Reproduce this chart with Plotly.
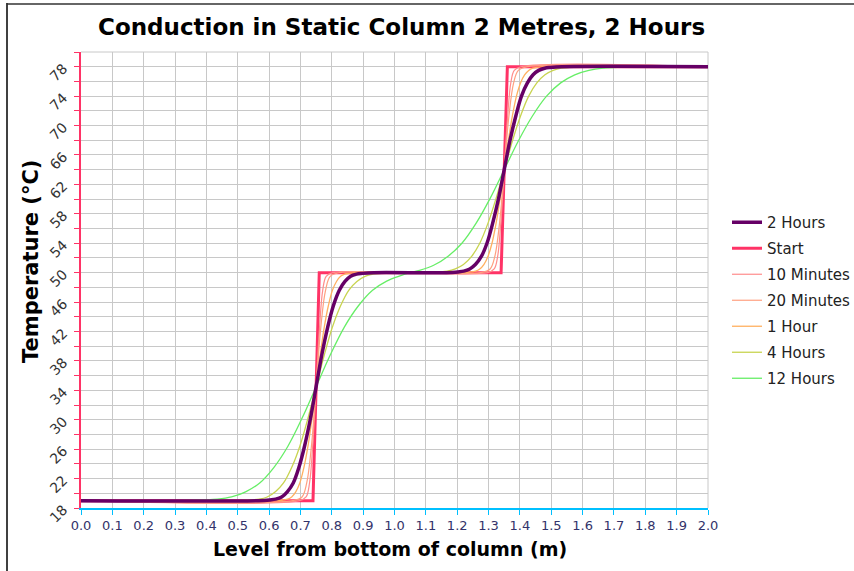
import plotly.graph_objects as go

# ---------------- data ----------------
start_x = [0.0, 0.74, 0.76, 1.34, 1.36, 2.0]
start_t = [19.0, 19.0, 50.0, 50.0, 78.0, 78.0]

min10_x = [0.0, 0.697, 0.718, 0.729, 0.739, 0.75, 0.761, 0.771, 0.782, 0.803,
           1.297, 1.318, 1.329, 1.339, 1.35, 1.361, 1.371, 1.382, 1.403, 2.0]
min10_t = [19.0, 19.0, 19.5, 21.4, 26.4, 34.5, 42.6, 47.6, 49.5, 50.0,
           50.0, 50.5, 52.2, 56.7, 64.0, 71.3, 75.8, 77.5, 78.0, 78.0]

min20_x = [0.0, 0.675, 0.705, 0.72, 0.735, 0.75, 0.765, 0.78, 0.795, 0.825,
           1.275, 1.305, 1.32, 1.335, 1.35, 1.365, 1.38, 1.395, 1.425, 2.0]
min20_t = [19.0, 19.0, 19.5, 21.4, 26.4, 34.5, 42.6, 47.6, 49.5, 50.0,
           50.0, 50.5, 52.2, 56.7, 64.0, 71.3, 75.8, 77.5, 78.0, 78.0]

h1_x = [0.0, 0.62, 0.646, 0.659, 0.672, 0.685, 0.698, 0.711, 0.724, 0.737, 0.75,
        0.763, 0.776, 0.789, 0.802, 0.815, 0.828, 0.841, 0.854, 0.88,
        1.22, 1.246, 1.259, 1.272, 1.285, 1.298, 1.311, 1.324, 1.337, 1.35,
        1.363, 1.376, 1.389, 1.402, 1.415, 1.428, 1.441, 1.454, 1.48, 2.0]
h1_t = [19.0, 19.0, 19.1, 19.2, 19.5, 20.2, 21.4, 23.5, 26.4, 30.2, 34.5,
        38.8, 42.6, 45.5, 47.6, 48.8, 49.5, 49.8, 49.9, 50.0,
        50.0, 50.1, 50.2, 50.5, 51.1, 52.2, 54.0, 56.7, 60.1, 64.0,
        67.9, 71.3, 74.0, 75.8, 76.9, 77.5, 77.8, 77.9, 78.0, 78.0]

h2_x = [0.0, 0.566, 0.603, 0.621, 0.64, 0.658, 0.677, 0.695, 0.713, 0.732, 0.75,
        0.768, 0.787, 0.805, 0.824, 0.842, 0.86, 0.879, 0.897, 0.934,
        1.166, 1.203, 1.221, 1.24, 1.258, 1.277, 1.295, 1.313, 1.332, 1.35,
        1.368, 1.387, 1.405, 1.424, 1.442, 1.46, 1.479, 1.497, 1.534, 2.0]
h2_t = [19.0, 19.0, 19.1, 19.2, 19.5, 20.2, 21.4, 23.5, 26.4, 30.2, 34.5,
        38.8, 42.6, 45.5, 47.6, 48.8, 49.5, 49.8, 49.9, 50.0,
        50.0, 50.1, 50.2, 50.5, 51.1, 52.2, 54.0, 56.7, 60.1, 64.0,
        67.9, 71.3, 74.0, 75.8, 76.9, 77.5, 77.8, 77.9, 78.0, 78.0]

h4_x = [0.0, 0.49, 0.542, 0.568, 0.594, 0.62, 0.646, 0.672, 0.698, 0.724, 0.75,
        0.776, 0.802, 0.828, 0.854, 0.88, 0.906, 0.932, 0.958, 1.01,
        1.09, 1.142, 1.168, 1.194, 1.22, 1.246, 1.272, 1.298, 1.324, 1.35,
        1.376, 1.402, 1.428, 1.454, 1.48, 1.506, 1.532, 1.558, 1.61, 2.0]
h4_t = [19.0, 19.0, 19.1, 19.2, 19.5, 20.2, 21.4, 23.5, 26.4, 30.2, 34.5,
        38.8, 42.6, 45.5, 47.6, 48.8, 49.5, 49.8, 49.9, 50.0,
        50.0, 50.1, 50.2, 50.5, 51.1, 52.2, 54.0, 56.7, 60.1, 64.0,
        67.9, 71.3, 74.0, 75.8, 76.9, 77.5, 77.8, 77.9, 78.0, 78.0]

h12_x = [0.0, 0.30, 0.39, 0.435, 0.48, 0.525, 0.57, 0.615, 0.66, 0.705, 0.75,
         0.795, 0.84, 0.885, 0.93, 0.975, 1.02, 1.05, 1.08, 1.125, 1.17, 1.215,
         1.26, 1.305, 1.35, 1.395, 1.44, 1.485, 1.53, 1.575, 1.62, 1.665, 1.71,
         1.80, 2.0]
h12_t = [19.0, 19.0, 19.1, 19.2, 19.5, 20.2, 21.4, 23.5, 26.4, 30.2, 34.5,
         38.8, 42.6, 45.5, 47.6, 48.85, 49.6, 50.0, 50.3, 51.0, 52.2, 54.0,
         56.7, 60.1, 64.0, 67.9, 71.3, 74.0, 75.8, 76.9, 77.5, 77.8, 77.9,
         78.0, 78.0]

x_ticks = [round(i * 0.1, 1) for i in range(21)]
x_tick_labels = [f"{v:.1f}" for v in x_ticks]
y_ticks = list(range(18, 79, 4))
y_tick_labels = [str(v) for v in y_ticks]

# ---------------- figure ----------------
FONT = "DejaVu Sans, Verdana, sans-serif"
W, H = 854, 571
L, R, T, B = 81, 708, 52, 508  # plot area in pixels

def px_x(p):
    return (p - L) / (R - L)

def px_y(p):
    return (B - p) / (B - T)

fig = go.Figure()

series = [
    ("Start", start_x, start_t, "#ff3366", 3.0, 2),
    ("10 Minutes", min10_x, min10_t, "#ff8c8c", 1.2, 3),
    ("20 Minutes", min20_x, min20_t, "#ffa080", 1.2, 4),
    ("1 Hour", h1_x, h1_t, "#ffb060", 1.3, 5),
    ("4 Hours", h4_x, h4_t, "#c8d450", 1.3, 6),
    ("12 Hours", h12_x, h12_t, "#66ee66", 1.3, 7),
    ("2 Hours", h2_x, h2_t, "#660066", 3.5, 1),
]
for name, xs, ts, col, w, rank in series:
    shape = "linear" if name == "Start" else "spline"
    fig.add_trace(go.Scatter(
        x=xs, y=ts, mode="lines", name=name,
        line=dict(color=col, width=w, shape=shape, smoothing=1.0),
        legendrank=rank, legendgroup=name,
    ))

fig.update_layout(
    width=W, height=H,
    margin=dict(l=L, r=W - R, t=T, b=H - B, pad=0, autoexpand=False),
    paper_bgcolor="white", plot_bgcolor="white",
    font=dict(family=FONT, color="#111111"),
    showlegend=True,
    legend=dict(
        x=px_x(727), y=px_y(206), xanchor="left", yanchor="top",
        font=dict(family=FONT, size=15, color="#222222"),
        bgcolor="rgba(0,0,0,0)", tracegroupgap=3.5, traceorder="grouped",
        itemwidth=30,
    ),
    xaxis=dict(
        range=[0, 2.0], tickmode="array", tickvals=x_ticks, ticktext=x_tick_labels,
        showgrid=True, gridcolor="#c8c8c8", gridwidth=1,
        showline=True, linecolor="#00c0ff", linewidth=1.5,
        ticks="outside", ticklen=5, tickcolor="#00c0ff", tickwidth=1,
        tickfont=dict(family=FONT, size=13, color="#33336a"),
        zeroline=False, automargin=False,
    ),
    yaxis=dict(
        range=[18, 80], tickmode="array", tickvals=y_ticks, ticktext=y_tick_labels,
        tickangle=-45, ticklabelstandoff=8,
        showgrid=True, gridcolor="#c8c8c8", gridwidth=1,
        showline=True, linecolor="#ff3366", linewidth=1.5,
        ticks="outside", ticklen=5, tickcolor="#ff3366", tickwidth=1,
        tickfont=dict(family=FONT, size=14, color="#333333"),
        minor=dict(dtick=2, tick0=18, showgrid=True, gridcolor="#c8c8c8",
                   gridwidth=1, ticks="outside", ticklen=5, tickcolor="#ff3366"),
        zeroline=False, automargin=False,
    ),
    annotations=[
        dict(text="<b>Conduction in Static Column 2 Metres, 2 Hours</b>",
             xref="paper", yref="paper", x=px_x(401), y=px_y(27),
             xanchor="center", yanchor="middle", showarrow=False,
             font=dict(family=FONT, size=23, color="#000000")),
        dict(text="<b>Level from bottom of column (m)</b>",
             xref="paper", yref="paper", x=px_x(390), y=px_y(549),
             xanchor="center", yanchor="middle", showarrow=False,
             font=dict(family=FONT, size=19, color="#000000")),
        dict(text="<b>Temperature (°C)</b>", textangle=-90,
             xref="paper", yref="paper", x=px_x(31), y=px_y(262),
             xanchor="center", yanchor="middle", showarrow=False,
             font=dict(family=FONT, size=21, color="#000000")),
    ],
    shapes=[
        dict(type="line", xref="paper", yref="paper", x0=0, x1=1, y0=1, y1=1,
             line=dict(color="#c8c8c8", width=1), layer="below"),
        dict(type="line", xref="paper", yref="paper", x0=1, x1=1, y0=0, y1=1,
             line=dict(color="#c8c8c8", width=1), layer="below"),
        dict(type="line", xref="paper", yref="paper", x0=px_x(7), x1=px_x(7),
             y0=px_y(3), y1=px_y(571), line=dict(color="#000000", width=1.5)),
        dict(type="line", xref="paper", yref="paper", x0=px_x(7), x1=px_x(854),
             y0=px_y(4), y1=px_y(4), line=dict(color="#333333", width=1.5)),
    ],
)

fig.write_html("out.html", config={"displayModeBar": False},
               post_script="document.body.style.margin='0px';")
